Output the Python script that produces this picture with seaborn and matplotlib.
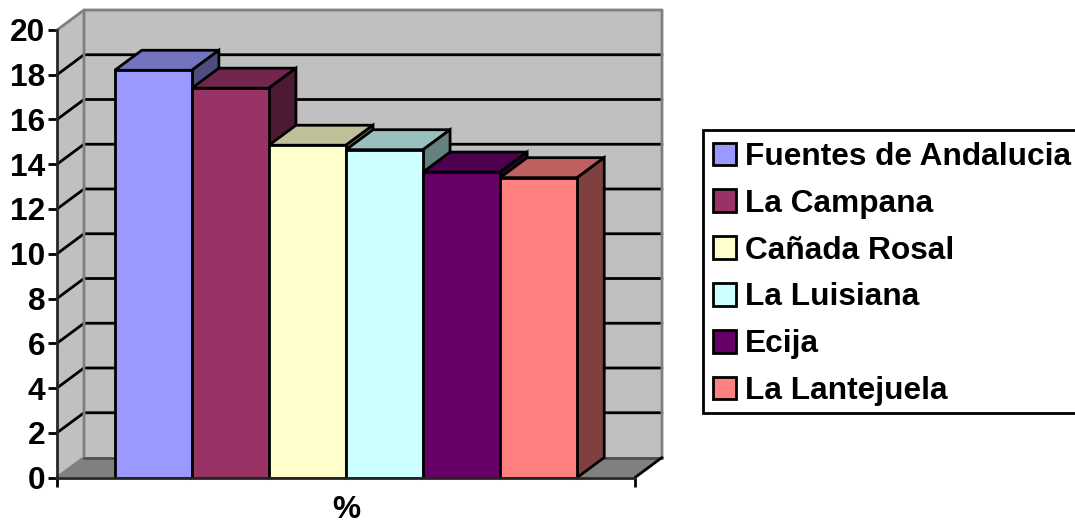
import pandas as pd
import matplotlib.pyplot as plt
import seaborn as sns
from matplotlib.patches import Patch, Rectangle
from matplotlib.colors import to_rgb

# Values
municipios = ['Fuentes de Andalucia', 'La Campana', 'Cañada Rosal', 'La Luisiana', 'Ecija', 'La Lantejuela']
porcentajes = [18.2, 17.4, 14.85, 14.65, 13.65, 13.4]
colores = ['#9999FF', '#993366', '#FFFFCC', '#CCFFFF', '#660066', '#FF8080']
serie = ['%']
y_ticks = list(range(0, 21, 2))

W, H = 1075, 524
LEFT, RIGHT, TOP, BOTTOM = 57, 635, 30, 477.5
DEPTH_X, DEPTH_Y = 27, 20
LW = 2.0
FS = 22.8

sns.set_style('white')
plt.rcParams['font.family'] = ['Liberation Sans', 'DejaVu Sans']
plt.rcParams['font.weight'] = 'bold'
plt.rcParams['font.size'] = FS
plt.rcParams['text.color'] = 'black'
plt.rcParams['axes.labelcolor'] = 'black'
plt.rcParams['xtick.labelcolor'] = 'black'
plt.rcParams['ytick.labelcolor'] = 'black'

data = pd.DataFrame({'serie': serie * len(municipios), 'municipio': municipios, 'valor': porcentajes})

fig = plt.figure(figsize=(W / 100, H / 100), dpi=100)
ax = fig.add_axes([LEFT / W, 1 - BOTTOM / H, (RIGHT - LEFT) / W, (BOTTOM - TOP) / H])
ax.patch.set_alpha(0)

sns.barplot(data=data, x='serie', y='valor', hue='municipio', hue_order=municipios,
            palette=colores, saturation=1, width=0.8, gap=0, edgecolor='black',
            linewidth=LW, legend=False, ax=ax)
ax.set_xlim(-0.5, 0.5)
ax.set_ylim(0, 20)

# depth of the fake 3D box, in data units
dx = DEPTH_X / (RIGHT - LEFT)
dy = DEPTH_Y / ((BOTTOM - TOP) / 20)

# walls and floor
ax.fill([-0.5, -0.5 + dx, -0.5 + dx, -0.5], [0, dy, 20 + dy, 20], color='#C0C0C0', zorder=0.1, clip_on=False, lw=0)
ax.fill([-0.5 + dx, 0.5 + dx, 0.5 + dx, -0.5 + dx], [dy, dy, 20 + dy, 20 + dy], color='#C0C0C0', zorder=0.1, clip_on=False, lw=0)
ax.fill([-0.5, 0.5, 0.5 + dx, -0.5 + dx], [0, 0, dy, dy], color='#808080', zorder=0.2, clip_on=False, lw=0)

# gridlines go round the corner
for t in y_ticks[1:-1]:
    ax.plot([-0.5, -0.5 + dx, 0.5 + dx], [t, t + dy, t + dy], color='black', lw=LW, zorder=0.5, clip_on=False)

# wall outlines
ax.plot([-0.5, -0.5 + dx, 0.5 + dx, 0.5 + dx], [20, 20 + dy, 20 + dy, dy], color='#808080', lw=LW, zorder=0.6, clip_on=False)
ax.plot([-0.5, -0.5 + dx, -0.5 + dx], [0, dy, 20 + dy], color='#808080', lw=LW, zorder=0.6, clip_on=False)
ax.plot([-0.5 + dx, 0.5 + dx], [dy, dy], color='#505050', lw=LW, zorder=0.6, clip_on=False)
ax.plot([0.5, 0.5 + dx], [0, dy], color='black', lw=LW, zorder=0.6, clip_on=False)


def shade(color, f):
    return tuple(c * f for c in to_rgb(color))


# top and side of every bar, left to right so each one covers the last
for i, (bars, color) in enumerate(zip(ax.containers, colores)):
    bar = bars[0]
    x0, x1 = bar.get_x(), bar.get_x() + bar.get_width()
    h = bar.get_height()
    z = 2 + i
    bar.set_zorder(z + 0.5)
    ax.fill([x0, x0 + dx, x1 + dx, x1], [h, h + dy, h + dy, h], facecolor=shade(color, 0.75),
            edgecolor='black', lw=LW, zorder=z, clip_on=False, joinstyle='miter')
    ax.fill([x1, x1 + dx, x1 + dx, x1], [0, dy, h + dy, h], facecolor=shade(color, 0.5),
            edgecolor='black', lw=LW, zorder=z, clip_on=False, joinstyle='miter')

sns.despine(ax=ax, top=True, right=True)
ax.spines['left'].set_linewidth(LW)
ax.spines['bottom'].set_linewidth(LW)
ax.spines['left'].set_zorder(20)
ax.spines['bottom'].set_zorder(20)
ax.set_yticks(y_ticks)
ax.set_xticks([-0.5, 0.5], labels=['', ''])
ax.tick_params(axis='both', length=6.5, width=LW, color='black', left=True, bottom=True, pad=2)
ax.set_ylabel('')
ax.set_xlabel(serie[0], fontweight='bold', labelpad=4)

# legend box runs off the right edge, drawn apart so its height can match
fig.add_artist(Rectangle((703 / W, 1 - 413 / H), 400 / W, 283 / H, transform=fig.transFigure,
                         facecolor='white', edgecolor='black', linewidth=LW))
handles = [Patch(facecolor=c, edgecolor='black', linewidth=LW, label=m) for c, m in zip(colores, municipios)]
leg = fig.legend(handles=handles, loc='upper left', bbox_to_anchor=(703 / W, 1 - 132 / H),
                 frameon=False, borderaxespad=0, borderpad=0.32, labelspacing=0.53,
                 handlelength=0.73, handleheight=0.73, handletextpad=0.28, prop={'weight': 'bold', 'size': FS})

fig.savefig('out.png', dpi=100)
